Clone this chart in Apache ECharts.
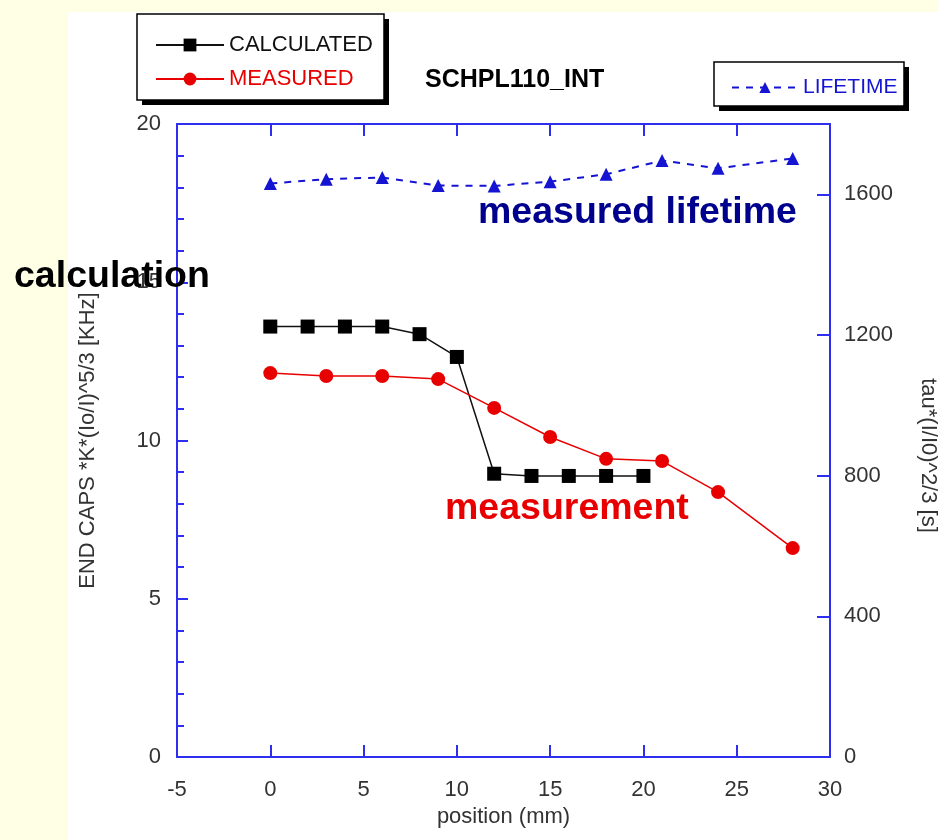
<!DOCTYPE html>
<html>
<head>
<meta charset="utf-8">
<script src="https://cdn.jsdelivr.net/npm/echarts@6/dist/echarts.min.js"></script>
<style>
  html, body { margin: 0; padding: 0; background: #FFFFE6; }
  #chart { width: 938px; height: 840px; }
</style>
</head>
<body>
<div id="chart"></div>
<script>
// position (mm) for each series
const calcPos = [0, 2, 4, 6, 8, 10, 12, 14, 16, 18, 20]
const calcVal = [13.6, 13.6, 13.6, 13.6, 13.36, 12.64, 8.95, 8.88, 8.88, 8.88, 8.88]

const measPos = [0, 3, 6, 9, 12, 15, 18, 21, 24, 28]
const measVal = [12.13, 12.04, 12.04, 11.94, 11.03, 10.11, 9.42, 9.35, 8.37, 6.6]

const lifePos = [0, 3, 6, 9, 12, 15, 18, 21, 24, 28]
const lifeVal = [1631, 1643, 1648, 1625, 1624, 1636, 1657, 1696, 1674, 1702]

const FONT = "'Liberation Sans', Arial, sans-serif"
const AXIS_BLUE = '#2E2EF0'
const RED = '#E80000'
const BLUE = '#1414D2'

const pairs = (xs, ys) => xs.map((x, i) => [x, ys[i]])

// legend frame: solid black shadow block, then white box on top
const box = (x, y, w, h) => [
  { type: 'rect', z: 1, shape: { x: x + 5, y: y + 5, width: w, height: h }, style: { fill: '#000' } },
  { type: 'rect', z: 2, shape: { x, y, width: w, height: h }, style: { fill: '#fff', stroke: '#000', lineWidth: 1.5 } }
]

const chart = echarts.init(document.getElementById('chart'), null, { renderer: 'canvas' })

const tickLabel = { color: '#333', fontSize: 22, fontFamily: FONT }
const axisLine = { show: true, onZero: false, lineStyle: { color: AXIS_BLUE, width: 2 } }

chart.setOption({
  backgroundColor: '#FFFFE6',
  animation: false,
  grid: { left: 177, right: 108, top: 124, bottom: 83, outerBoundsMode: 'none' },
  graphic: [
    // white page area
    { type: 'rect', z: -10, shape: { x: 68, y: 12, width: 870, height: 828 }, style: { fill: '#fff' } },
    ...box(137, 14, 247, 86),
    ...box(714, 62, 190, 44),
    {
      type: 'text', z: 10, left: 425, top: 68,
      style: { text: 'SCHPL110_INT', fill: '#000', font: `bold 25px ${FONT}` }
    },
    {
      type: 'text', z: 10, left: 14, top: 258,
      style: { text: 'calculation', fill: '#000', font: `bold 37.5px ${FONT}` }
    },
    {
      type: 'text', z: 10, left: 478, top: 194,
      style: { text: 'measured lifetime', fill: '#00008E', font: `bold 37.5px ${FONT}` }
    },
    {
      type: 'text', z: 10, left: 445, top: 490,
      style: { text: 'measurement', fill: RED, font: `bold 37.5px ${FONT}` }
    }
  ],
  legend: [
    {
      z: 5, left: 150, top: 29, orient: 'vertical', itemWidth: 68, itemHeight: 16, itemGap: 12,
      textStyle: { fontSize: 22, fontFamily: FONT },
      data: [
        { name: 'CALCULATED', textStyle: { color: '#111' } },
        { name: 'MEASURED', textStyle: { color: RED } }
      ]
    },
    {
      z: 5, left: 726, top: 72, itemWidth: 66, itemHeight: 14,
      textStyle: { fontSize: 21, fontFamily: FONT, color: BLUE },
      data: ['LIFETIME']
    }
  ],
  xAxis: [
    {
      type: 'value', min: -5, max: 30, interval: 5,
      name: 'position (mm)', nameLocation: 'middle', nameGap: 48,
      nameTextStyle: { color: '#333', fontSize: 22, fontFamily: FONT },
      axisLine,
      axisTick: { inside: true, length: 12, lineStyle: { color: AXIS_BLUE, width: 2 } },
      axisLabel: { ...tickLabel, margin: 22 },
      splitLine: { show: false }
    },
    {
      type: 'value', position: 'top', min: -5, max: 30, interval: 5,
      axisLine,
      axisTick: { inside: true, length: 12, lineStyle: { color: AXIS_BLUE, width: 2 } },
      axisLabel: { show: false },
      splitLine: { show: false }
    }
  ],
  yAxis: [
    {
      type: 'value', min: 0, max: 20, interval: 5,
      name: 'END CAPS *K*(Io/I)^5/3 [KHz]', nameLocation: 'middle', nameGap: 78,
      nameTextStyle: { color: '#333', fontSize: 22, fontFamily: FONT },
      axisLine,
      axisTick: { inside: true, length: 11, lineStyle: { color: AXIS_BLUE, width: 2 } },
      minorTick: { show: true, splitNumber: 5, length: 7, lineStyle: { color: AXIS_BLUE, width: 2 } },
      axisLabel: { ...tickLabel, margin: 16 },
      splitLine: { show: false }
    },
    {
      type: 'value', position: 'right', min: 0, max: 1800, interval: 400,
      name: 'tau*(I/I0)^2/3 [s]', nameLocation: 'middle', nameGap: 87, nameRotate: -90,
      nameTextStyle: { color: '#333', fontSize: 22, fontFamily: FONT, padding: [0, 0, 0, 30] },
      axisLine,
      axisTick: { inside: true, length: 13, lineStyle: { color: AXIS_BLUE, width: 2 } },
      axisLabel: { ...tickLabel, margin: 14, showMaxLabel: false, formatter: (v) => String(v) },
      splitLine: { show: false }
    }
  ],
  series: [
    {
      name: 'CALCULATED', type: 'line', xAxisIndex: 0, yAxisIndex: 0,
      data: pairs(calcPos, calcVal),
      symbol: 'rect', symbolSize: 14,
      lineStyle: { color: '#111', width: 1.5 },
      itemStyle: { color: '#000' }
    },
    {
      name: 'MEASURED', type: 'line', xAxisIndex: 0, yAxisIndex: 0,
      data: pairs(measPos, measVal),
      symbol: 'circle', symbolSize: 14,
      lineStyle: { color: RED, width: 1.5 },
      itemStyle: { color: RED }
    },
    {
      name: 'LIFETIME', type: 'line', xAxisIndex: 0, yAxisIndex: 1,
      data: pairs(lifePos, lifeVal),
      symbol: 'triangle', symbolSize: 13,
      lineStyle: { color: BLUE, width: 2, type: [7, 7] },
      itemStyle: { color: BLUE }
    }
  ]
})
</script>
</body>
</html>
